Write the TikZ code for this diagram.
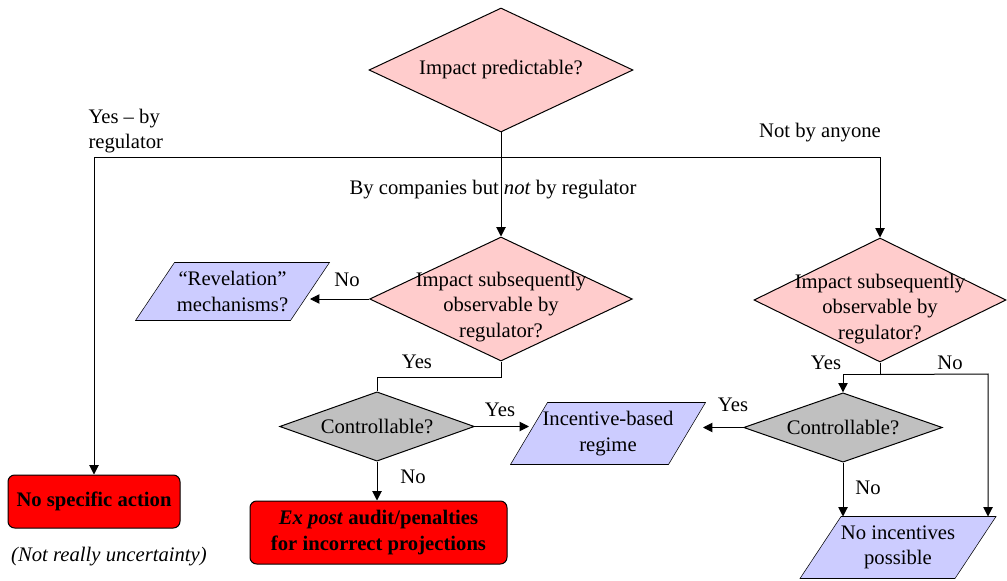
\documentclass[tikz,border=0pt]{standalone}
\usepackage{fontspec}
\setmainfont{Liberation Serif}
\usetikzlibrary{shapes.geometric,arrows.meta,backgrounds,calc}
\definecolor{pinkq}{HTML}{FFCCCC}
\definecolor{grayq}{HTML}{C0C0C0}
\definecolor{lilac}{HTML}{CCCCFF}
\definecolor{alarm}{HTML}{FF0000}
% parallelogram drawn behind a rectangular node: #1 node name, #2 half slant
\newcommand\slantbox[2]{%
  \filldraw[fill=lilac, draw=black]
    ($(#1.north west)+(#2,0)$) -- ($(#1.north east)+(#2,0)$) --
    ($(#1.south east)-(#2,0)$) -- ($(#1.south west)-(#2,0)$) -- cycle;}
\begin{document}
\begin{tikzpicture}[x=0.75pt,y=-0.75pt,line width=0.75pt,
  every node/.style={font=\fontsize{15.5}{19}\selectfont},
  question/.style={diamond, draw, fill=pinkq, inner sep=0pt},
  controlq/.style={diamond, draw, fill=grayq, inner sep=0pt},
  outcome/.style={rectangle, inner sep=0pt, align=center},
  action/.style={rectangle, draw, fill=alarm, rounded corners=5pt,
    inner sep=0pt, align=center, font=\fontsize{15.5}{19}\selectfont\bfseries},
  lbl/.style={inner sep=0pt},
  arr/.style={-{Triangle[length=7pt,width=7pt]}}]
\useasboundingbox (0,0) rectangle (1007,581);

% decisions
\node[question, minimum width=198pt, minimum height=93pt] (d0) at (501,70) {};
\node[lbl] (d0t) at (d0) {Impact predictable?};
\node[question, minimum width=197pt, minimum height=93pt] (d1) at (501,299) {};
\node[lbl, align=center] (d1t) at ($(d1)+(0,8)$) {Impact subsequently\\observable by\\regulator?};
\node[question, minimum width=189pt, minimum height=93pt] (d2) at (880,300) {};
\node[lbl, align=center] (d2t) at ($(d2)+(0,9)$) {Impact subsequently\\observable by\\regulator?};
\node[controlq, minimum width=146pt, minimum height=52pt] (c1) at (377,426.5) {};
\node[lbl] (c1t) at (c1) {Controllable?};
\node[controlq, minimum width=149pt, minimum height=52pt] (c2) at (843,427.5) {};
\node[lbl] (c2t) at (c2) {Controllable?};

% outcomes
\node[outcome, minimum width=115.5pt, minimum height=42.75pt] (rev) at (232.5,291.5)
  {``Revelation''\\mechanisms?};
\node[outcome, minimum width=117.75pt, minimum height=45.75pt] (inc) at (608,433.5)
  {Incentive-based\\regime};
\node[outcome, minimum width=115.5pt, minimum height=45.75pt] (nip) at (898,547.5)
  {No incentives\\possible};
\begin{scope}[on background layer]
  \fill[white] (0,0) rectangle (1007,581);
  \slantbox{rev}{19.5}
  \slantbox{inc}{18.5}
  \slantbox{nip}{20.5}
\end{scope}

\node[action, minimum width=129pt, minimum height=39.75pt] (nsa) at (94,501.5)
  {No specific action};
\node[action, minimum width=192.75pt, minimum height=47.25pt] (ex) at (378.5,532.5)
  {\textit{Ex post} audit/penalties\\for incorrect projections};

% connectors
\coordinate (hub) at (501,158);
\draw[arr] (d0.south) -- (d1.north);
\draw[arr] (hub) -| (nsa.north);
\draw[arr] (hub) -| (d2.north);
\draw[arr] (d1.west) -- (d1.west -| rev.east);
\draw (d1.south) -- ++(0,16) -| (c1.north);
\draw[arr] (c1.east) -- (c1.east -| inc.west);
\draw[arr] (c1.south) -- (c1.south |- ex.north);
\draw (d2.south) -- ++(0,12) coordinate (fork);
\coordinate (forkR) at (988,374);
\draw[arr] (fork) -| (c2.north);
\draw[arr] (fork) -- (forkR) -- (forkR |- nip.north);
\draw[arr, shorten >=12pt] (c2.west) -- (c2.west -| inc.east);
\draw[arr] (c2.south) -- (c2.south |- nip.north);

% branch labels
\node[lbl, align=left, anchor=west] (lYesReg) at (88,131) {Yes -- by\\regulator};
\node[lbl] (lNobody) at (820,133) {Not by anyone};
\node[lbl] (lComp) at (493,190) {By companies but \textit{not} by regulator};
\node[lbl] (lNo1) at (347,280) {No};
\node[lbl] (lYes1) at (417,362) {Yes};
\node[lbl] (lYes2) at (500,410) {Yes};
\node[lbl] (lNo2) at (413,477) {No};
\node[lbl] (lYes3) at (826,363) {Yes};
\node[lbl] (lNo3) at (950,363) {No};
\node[lbl] (lYes4) at (733,405) {Yes};
\node[lbl] (lNo4) at (868,488) {No};
\node[lbl] (note) at (109,557) {\textit{(Not really uncertainty)}};
\end{tikzpicture}
\end{document}
